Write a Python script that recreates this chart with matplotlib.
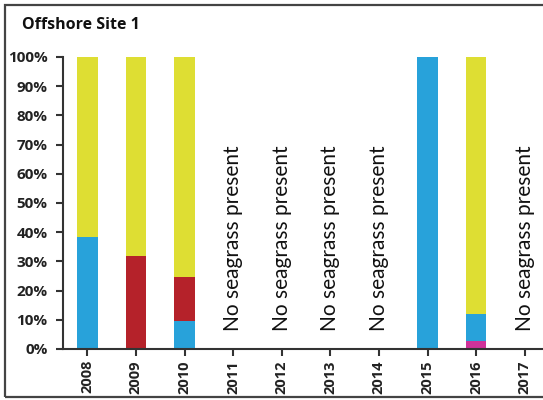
import matplotlib
matplotlib.use("Agg")
import matplotlib.pyplot as plt
import numpy as np
from matplotlib.patches import Rectangle

years = ["2008", "2009", "2010", "2011", "2012", "2013", "2014", "2015", "2016", "2017"]
magenta = [0, 0, 0, 0, 0, 0, 0, 0, 2.7, 0]
blue = [38.5, 0, 9.5, 0, 0, 0, 0, 100, 9.3, 0]
red = [0, 32, 15, 0, 0, 0, 0, 0, 0, 0]
yellow = [61.5, 68, 75.5, 0, 0, 0, 0, 0, 88, 0]
no_seagrass = ["2011", "2012", "2013", "2014", "2017"]
yticks = [0, 10, 20, 30, 40, 50, 60, 70, 80, 90, 100]

colors = {"magenta": "#D0329A", "blue": "#28A2DA", "red": "#B5222A", "yellow": "#DEDE33"}

W, H = 543, 400
fig = plt.figure(figsize=(W / 100, H / 100), dpi=100)
bold_font = "Open Sans"
text_font = "Lato"

# frame around the figure
fig.add_artist(Rectangle((5 / W, 3 / H), 1.2, (397 - 3 - 2) / H, transform=fig.transFigure,
                         fill=False, edgecolor="#444444", linewidth=1.6, clip_on=False))

ax = fig.add_axes([63 / W, 51 / H, 486 / W, 292 / H])
x = np.arange(len(years))
bw = 0.42
bottom = np.zeros(len(years))
for vals, c in [(magenta, "magenta"), (blue, "blue"), (red, "red"), (yellow, "yellow")]:
    v = np.array(vals, dtype=float)
    ax.bar(x, v, bw, bottom=bottom, color=colors[c], linewidth=0)
    bottom += v

for yr in no_seagrass:
    i = years.index(yr)
    ax.text(i, 6, "No seagrass present", rotation=90, ha="center", va="bottom",
            fontsize=15, family=text_font, color="#111111")

ax.set_xlim(-0.5, len(years) - 0.5)
ax.set_ylim(0, 100)
ax.set_yticks(yticks)
ax.set_yticklabels([f"{v}%" for v in yticks], fontsize=11, fontweight="bold", family=bold_font, color="#222222")
ax.set_xticks(x)
ax.set_xticklabels(years, rotation=90, fontsize=10.5, fontweight="bold", family=bold_font, color="#222222")
for s in ["top", "right"]:
    ax.spines[s].set_visible(False)
for s in ["left", "bottom"]:
    ax.spines[s].set_linewidth(1.5)
    ax.spines[s].set_color("#333333")
ax.tick_params(axis="both", direction="out", length=5, width=1.5, color="#333333")
ax.tick_params(axis="y", pad=6)
ax.tick_params(axis="x", pad=3)

fig.text(22 / W, 1 - 25 / H, "Offshore Site 1", fontsize=11.5, fontweight="bold", family=bold_font,
         va="center", ha="left", color="#111111")

fig.savefig("out.png", dpi=100)
